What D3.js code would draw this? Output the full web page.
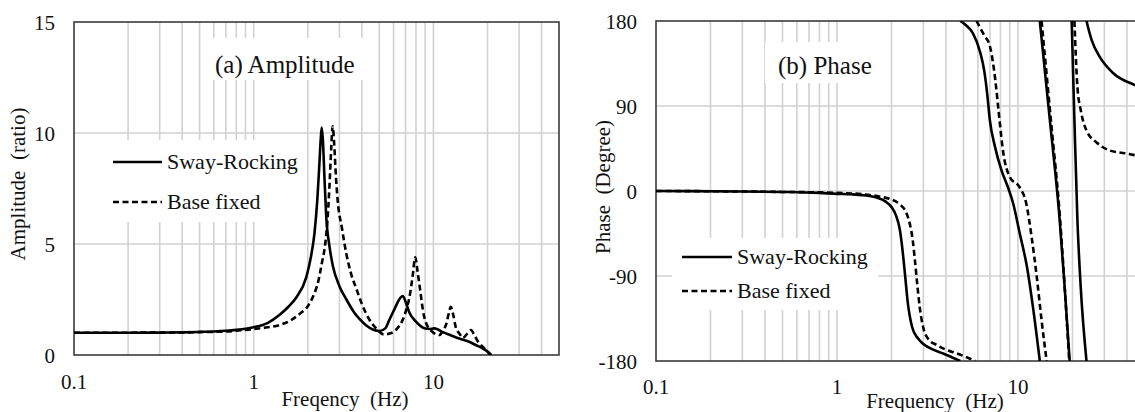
<!DOCTYPE html>
<html>
<head>
<meta charset="utf-8">
<script src="https://cdn.jsdelivr.net/npm/d3@7"></script>
<style>
  html, body { margin: 0; padding: 0; background: #fff; }
  svg { display: block; }
</style>
</head>
<body>
<svg id="chart" width="1135" height="412"></svg>
<script>
// ---- Amplitude response (ratio) ----
const ampFreqSway = [0.1, 0.2, 0.3, 0.4, 0.5, 0.6, 0.7, 0.8, 0.9, 1.0, 1.2, 1.39, 1.55, 1.73, 1.96, 2.08, 2.18, 2.26, 2.32, 2.36, 2.39, 2.43, 2.47, 2.53, 2.64, 2.76, 3.0, 3.28, 3.6, 3.9, 4.2, 4.6, 5.0, 5.4, 5.7, 6.1, 6.45, 6.76, 7.0, 7.36, 8.0, 8.9, 9.5, 10.1, 10.6, 11.2, 12.2, 13.3, 14.5, 15.8, 17.2, 18.8, 20.4, 21.0];
const ampSway     = [1.0, 1.0, 1.01, 1.02, 1.04, 1.06, 1.09, 1.13, 1.18, 1.25, 1.45, 1.8, 2.15, 2.6, 3.5, 4.4, 5.5, 7.0, 8.6, 9.7, 10.25, 9.6, 8.2, 6.3, 4.9, 4.0, 3.1, 2.5, 1.95, 1.6, 1.35, 1.15, 1.08, 1.2, 1.6, 2.1, 2.5, 2.66, 2.4, 1.9, 1.5, 1.2, 1.17, 1.2, 1.15, 1.04, 0.92, 0.8, 0.7, 0.6, 0.45, 0.3, 0.1, 0.0];

const ampFreqFixed = [0.1, 0.3, 0.5, 0.7, 0.9, 1.0, 1.2, 1.39, 1.6, 1.8, 2.0, 2.13, 2.3, 2.39, 2.5, 2.57, 2.64, 2.7, 2.75, 2.8, 2.87, 2.93, 3.1, 3.27, 3.5, 3.72, 4.0, 4.4, 4.8, 5.3, 5.9, 6.3, 6.76, 7.1, 7.36, 7.65, 7.93, 8.15, 8.35, 8.9, 9.7, 10.8, 11.3, 11.8, 12.2, 12.5, 12.9, 13.3, 14.0, 14.6, 15.4, 16.2, 16.9, 17.7, 19.2, 20.8];
const ampFixed     = [1.0, 1.01, 1.03, 1.06, 1.13, 1.17, 1.25, 1.35, 1.55, 1.85, 2.2, 2.6, 3.4, 4.1, 5.0, 6.0, 7.6, 9.3, 10.3, 9.6, 8.0, 7.0, 5.7, 4.6, 3.6, 3.0, 2.3, 1.6, 1.2, 0.93, 1.0, 1.2, 1.6, 2.1, 2.6, 3.5, 4.4, 3.8, 3.2, 1.7, 1.1, 0.9, 1.1, 1.4, 1.9, 2.17, 1.8, 1.27, 0.95, 0.77, 0.95, 1.12, 0.9, 0.6, 0.3, 0.0];

// ---- Phase response (degree); null separates the wrapped branches ----
const phaseFreqSway = [0.1, 0.3, 0.5, 0.8, 1.0, 1.2, 1.4, 1.66, 1.85, 2.0, 2.12, 2.22, 2.3, 2.38, 2.46, 2.6, 2.8, 3.0, 3.4, 3.86, 4.3, 4.8, null,
                       4.8, 5.2, 5.64, 6.2, 6.5, 6.75, 6.99, 7.46, 8.1, 8.8, 9.4, 10.2, 11.2, 12.1, 13.2, null,
                       13.2, 15.0, 17.0, 18.1, 19.3, null,
                       19.8, 20.5, 21.3, 22.2, 23.9, null,
                       23.9, 25.5, 28.3, 33.5, 44.5, 50];
const phaseSway     = [0, -0.5, -1, -2, -3, -3.5, -4.5, -7, -11, -17, -26, -40, -62, -90, -118, -144, -156, -162, -168, -172, -176, -180, null,
                       180, 175, 167, 146, 128, 104, 75, 47, 22, 4, -13, -44, -80, -123, -180, null,
                       180, 75, -31, -101, -180, null,
                       180, 75, -31, -101, -180, null,
                       180, 160, 142, 125, 112, 108];

const phaseFreqFixed = [0.1, 0.3, 0.5, 0.8, 1.0, 1.4, 1.73, 2.0, 2.22, 2.4, 2.52, 2.62, 2.7, 2.78, 2.86, 3.0, 3.2, 3.55, 4.0, 4.6, 5.2, 5.8, null,
                        5.9, 6.5, 7.0, 7.5, 7.8, 8.3, 9.0, 10.2, 11.1, 11.9, 12.7, 13.5, 14.4, null,
                        13.5, 15.2, 17.1, 18.1, 19.2, null,
                        20.5, 21.3, 22.2, 23.9, 27.3, 32, 39, 44, 50];
const phaseFixed     = [0, -0.5, -1, -1.5, -2, -3.5, -6, -9, -14, -22, -34, -52, -75, -100, -122, -145, -157, -163, -168, -172, -176, -180, null,
                        180, 165, 153, 117, 86, 40, 15, 4, -13, -49, -91, -137, -180, null,
                        180, 75, -31, -101, -180, null,
                        180, 110, 86, 64, 51, 43, 40, 38, 36];

// ---- Axis ticks ----
const freqGrid = [0.2, 0.3, 0.4, 0.5, 0.6, 0.7, 0.8, 0.9, 1, 2, 3, 4, 5, 6, 7, 8, 9, 10, 20, 30, 40];
const freqLabels = [0.1, 1, 10];
const ampTicks = [0, 5, 10, 15];
const phaseTicks = [-180, -90, 0, 90, 180];
const seriesNames = ["Sway-Rocking", "Base fixed"];

const FONT = '"Liberation Serif", "Times New Roman", serif';
const INK = "#111";
const svg = d3.select("#chart");
const GRID = "#d2d2d2", FRAME = "#3a3a3a";

function pairs(fs, vs) {
  return fs.map((f, i) => (f === null ? null : [f, vs[i]]));
}

// text placed by its left edge; `anchor` (0 = start, 0.5 = middle, 1 = end) is applied from the measured width
function label(parent, str, size, x, y, anchor, transform) {
  const t = parent.append("text").attr("font-family", FONT).attr("font-size", size)
    .attr("fill", INK).attr("xml:space", "preserve").text(str);
  if (transform) t.attr("transform", transform);
  const w = t.node().getComputedTextLength();
  t.attr("x", x - w * (anchor || 0)).attr("y", y);
  return t;
}

function panel(cfg) {
  const x = d3.scaleLog().domain([0.1, 50]).range(cfg.xr);
  const y = d3.scaleLinear().domain(cfg.yd).range(cfg.yr);
  const g = svg.append("g");
  const id = "clip" + cfg.key;
  svg.append("defs").append("clipPath").attr("id", id)
    .append("rect").attr("x", cfg.xr[0]).attr("y", cfg.yr[1])
    .attr("width", cfg.xr[1] - cfg.xr[0]).attr("height", cfg.yr[0] - cfg.yr[1]);

  // grid
  g.selectAll(".vg").data(freqGrid).join("line")
    .attr("x1", d => x(d)).attr("x2", d => x(d))
    .attr("y1", cfg.yr[1]).attr("y2", cfg.yr[0])
    .attr("stroke", GRID).attr("stroke-width", 1.6);
  g.selectAll(".hg").data(cfg.hgrid).join("line")
    .attr("x1", cfg.xr[0]).attr("x2", cfg.xr[1])
    .attr("y1", d => y(d)).attr("y2", d => y(d))
    .attr("stroke", GRID).attr("stroke-width", 1.6);

  // white boxes behind title and legend
  g.append("rect").attr("x", cfg.titleBox[0]).attr("y", cfg.titleBox[1])
    .attr("width", cfg.titleBox[2]).attr("height", cfg.titleBox[3]).attr("fill", "#fff");
  g.append("rect").attr("x", cfg.legBox[0]).attr("y", cfg.legBox[1])
    .attr("width", cfg.legBox[2]).attr("height", cfg.legBox[3]).attr("fill", "#fff");

  // frame
  g.append("rect").attr("x", cfg.xr[0]).attr("y", cfg.yr[1])
    .attr("width", cfg.xr[1] - cfg.xr[0]).attr("height", cfg.yr[0] - cfg.yr[1])
    .attr("fill", "none").attr("stroke", FRAME).attr("stroke-width", 1.6);

  // curves
  const line = d3.line().defined(d => d !== null)
    .x(d => x(d[0])).y(d => y(d[1])).curve(d3.curveMonotoneX);
  const cg = g.append("g").attr("clip-path", `url(#${id})`);
  cg.append("path").datum(cfg.solid).attr("d", line)
    .attr("fill", "none").attr("stroke", "#000").attr("stroke-width", 2.6).attr("stroke-linejoin", "round");
  cg.append("path").datum(cfg.dashed).attr("d", line)
    .attr("fill", "none").attr("stroke", "#000").attr("stroke-width", 2.6)
    .attr("stroke-dasharray", "6,3.5");

  // tick labels
  freqLabels.forEach(f => label(g, d3.format("~g")(f), 21, x(f), cfg.xLabelY, 0.5));
  cfg.yticks.forEach(v => label(g, String(v), 21, cfg.xr[0] - 19, y(v) + 8, 1));

  // titles
  label(g, cfg.title, 25, cfg.titlePos[0], cfg.titlePos[1], 0);
  label(g, cfg.xLabel, 21, cfg.xTitle[0], cfg.xTitle[1], 0.5);
  label(g, cfg.yLabel, 21, 0, 0, 0.5,
    `translate(${cfg.yTitle[0]},${cfg.yTitle[1]}) rotate(-90)`);

  // legend
  seriesNames.forEach((name, i) => {
    const ly = cfg.legLine[2] + i * cfg.legLine[3];
    g.append("line").attr("x1", cfg.legLine[0]).attr("x2", cfg.legLine[1])
      .attr("y1", ly).attr("y2", ly).attr("stroke", "#000").attr("stroke-width", 2.6)
      .attr("stroke-dasharray", i === 0 ? null : "6,3.5");
    label(g, name, 22, cfg.legLine[1] + 5, ly + 7, 0);
  });
}

panel({
  key: "a", xr: [74, 559], yd: [0, 15], yr: [355, 22], hgrid: [5, 10], yticks: ampTicks,
  solid: pairs(ampFreqSway, ampSway), dashed: pairs(ampFreqFixed, ampFixed),
  titleBox: [207, 38, 158, 42], legBox: [100, 140, 204, 82],
  title: "(a) Amplitude", titlePos: [215, 73],
  xLabel: "Freqency  (Hz)", xTitle: [345, 406], xLabelY: 389,
  yLabel: "Amplitude  (ratio)", yTitle: [25, 184],
  legLine: [113, 162, 162, 40]
});

panel({
  key: "b", xr: [656, 1144.5], yd: [-180, 180], yr: [361, 21], hgrid: [-90, 0, 90], yticks: phaseTicks,
  solid: pairs(phaseFreqSway, phaseSway), dashed: pairs(phaseFreqFixed, phaseFixed),
  titleBox: [765, 42, 122, 41], legBox: [672, 238, 206, 72],
  title: "(b) Phase", titlePos: [778, 74],
  xLabel: "Frequency  (Hz)", xTitle: [935, 408], xLabelY: 394,
  yLabel: "Phase  (Degree)", yTitle: [610, 187],
  legLine: [682, 732, 257, 34]
});
</script>
</body>
</html>
